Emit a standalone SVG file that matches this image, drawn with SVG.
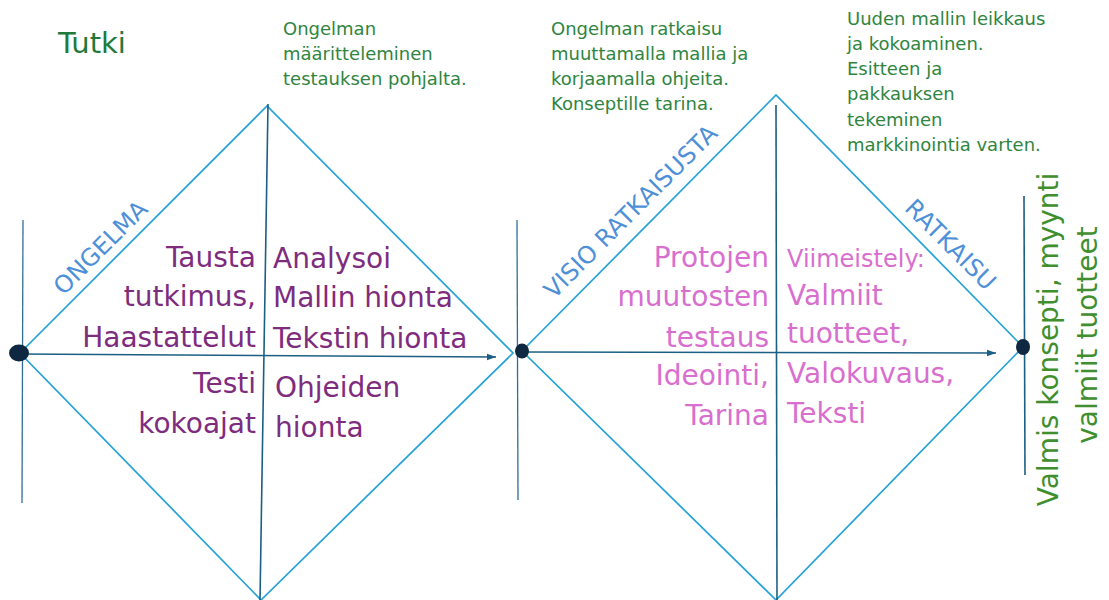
<svg xmlns="http://www.w3.org/2000/svg" width="1109" height="600" viewBox="0 0 1109 600">
  <style>
    text { font-family: "DejaVu Sans", "Noto Sans", sans-serif; }
    .edge { fill: none; stroke: #25A2D8; stroke-width: 1.7; }
    .axis { fill: none; stroke: #1B5F84; stroke-width: 1.6; }
    .post { fill: none; stroke: #2F6F95; stroke-width: 1.3; }
    .dot { fill: #0E2841; }
    .title { fill: #21793A; font-size: 29px; }
    .note { fill: #2F8540; font-size: 18px; }
    .purple { fill: #7E2C7E; font-size: 28px; }
    .pink { fill: #D86FCF; font-size: 28px; }
    .phase { fill: #4E90D8; font-size: 24px; }
    .result { fill: #3F8F2E; font-size: 28px; }
    .r { text-anchor: end; }
  </style>
  <defs>
    <marker id="arrow" markerUnits="userSpaceOnUse" markerWidth="10" markerHeight="8" refX="9" refY="4" orient="auto">
      <path d="M0,0.8 L9,4 L0,7.2 Z" fill="#1B5F84"/>
    </marker>
  </defs>

  <g id="diamond-1">
    <polygon class="edge" points="20,353 267,106 513,353 261,600"/>
  </g>
  <g id="diamond-2">
    <polygon class="edge" points="522,351 776,95 1023,347 776,600"/>
  </g>

  <g id="connectors">
    <line class="post" x1="23" y1="220" x2="22" y2="503"/>
    <line class="post" x1="517" y1="220" x2="518" y2="500"/>
    <line class="axis" x1="1024" y1="196" x2="1025" y2="475"/>
    <line class="axis" x1="268" y1="104" x2="260" y2="600"/>
    <line class="axis" x1="776" y1="105" x2="777" y2="600"/>
    <line class="axis" x1="20" y1="354" x2="496" y2="357" marker-end="url(#arrow)"/>
    <line class="axis" x1="522" y1="352" x2="996" y2="353" marker-end="url(#arrow)"/>
  </g>

  <g id="dot-start"><ellipse class="dot" cx="19" cy="353" rx="10" ry="8.5"/></g>
  <g id="dot-middle"><ellipse class="dot" cx="522" cy="351" rx="7" ry="7.5"/></g>
  <g id="dot-end"><ellipse class="dot" cx="1023" cy="347" rx="7" ry="8"/></g>

  <g id="title">
    <text class="title" x="58" y="53">Tutki</text>
  </g>

  <g id="note-1">
    <text class="note" x="283" y="35">Ongelman</text>
    <text class="note" x="283" y="60">määritteleminen</text>
    <text class="note" x="283" y="85">testauksen pohjalta.</text>
  </g>
  <g id="note-2">
    <text class="note" x="551" y="35">Ongelman ratkaisu</text>
    <text class="note" x="551" y="60">muuttamalla mallia ja</text>
    <text class="note" x="551" y="85">korjaamalla ohjeita.</text>
    <text class="note" x="551" y="110">Konseptille tarina.</text>
  </g>
  <g id="note-3">
    <text class="note" x="847" y="25">Uuden mallin leikkaus</text>
    <text class="note" x="847" y="50">ja kokoaminen.</text>
    <text class="note" x="847" y="75">Esitteen ja</text>
    <text class="note" x="847" y="100">pakkauksen</text>
    <text class="note" x="847" y="126">tekeminen</text>
    <text class="note" x="847" y="151">markkinointia varten.</text>
  </g>

  <g id="label-ongelma">
    <text class="phase" text-anchor="middle" transform="translate(100,247) rotate(-45)" y="9">ONGELMA</text>
  </g>
  <g id="label-visio">
    <text class="phase" text-anchor="middle" transform="translate(630,211) rotate(-45)" y="9">VISIO RATKAISUSTA</text>
  </g>
  <g id="label-ratkaisu">
    <text class="phase" text-anchor="middle" transform="translate(951,244) rotate(45)" y="9">RATKAISU</text>
  </g>

  <g id="quadrant-1-left">
    <text class="purple r" x="256" y="267">Tausta</text>
    <text class="purple r" x="256" y="306">tutkimus,</text>
    <text class="purple r" x="256" y="347">Haastattelut</text>
    <text class="purple r" x="256" y="393">Testi</text>
    <text class="purple r" x="256" y="433">kokoajat</text>
  </g>
  <g id="quadrant-1-right">
    <text class="purple" x="273" y="268">Analysoi</text>
    <text class="purple" x="273" y="307">Mallin hionta</text>
    <text class="purple" x="273" y="348">Tekstin hionta</text>
    <text class="purple" x="275" y="397">Ohjeiden</text>
    <text class="purple" x="275" y="437">hionta</text>
  </g>

  <g id="quadrant-2-left">
    <text class="pink r" x="769" y="267">Protojen</text>
    <text class="pink r" x="769" y="306">muutosten</text>
    <text class="pink r" x="769" y="347">testaus</text>
    <text class="pink r" x="769" y="385">Ideointi,</text>
    <text class="pink r" x="769" y="425">Tarina</text>
  </g>
  <g id="quadrant-2-right">
    <text class="pink" x="787" y="267" style="font-size:24px">Viimeistely:</text>
    <text class="pink" x="787" y="305">Valmiit</text>
    <text class="pink" x="787" y="343">tuotteet,</text>
    <text class="pink" x="787" y="383">Valokuvaus,</text>
    <text class="pink" x="787" y="423">Teksti</text>
  </g>

  <g id="result">
    <text class="result" text-anchor="middle" transform="translate(1058,335) rotate(-90)">
      <tspan x="0" y="0">Valmis konsepti, myynti</tspan>
      <tspan x="0" y="39">valmiit tuotteet</tspan>
    </text>
  </g>
</svg>
